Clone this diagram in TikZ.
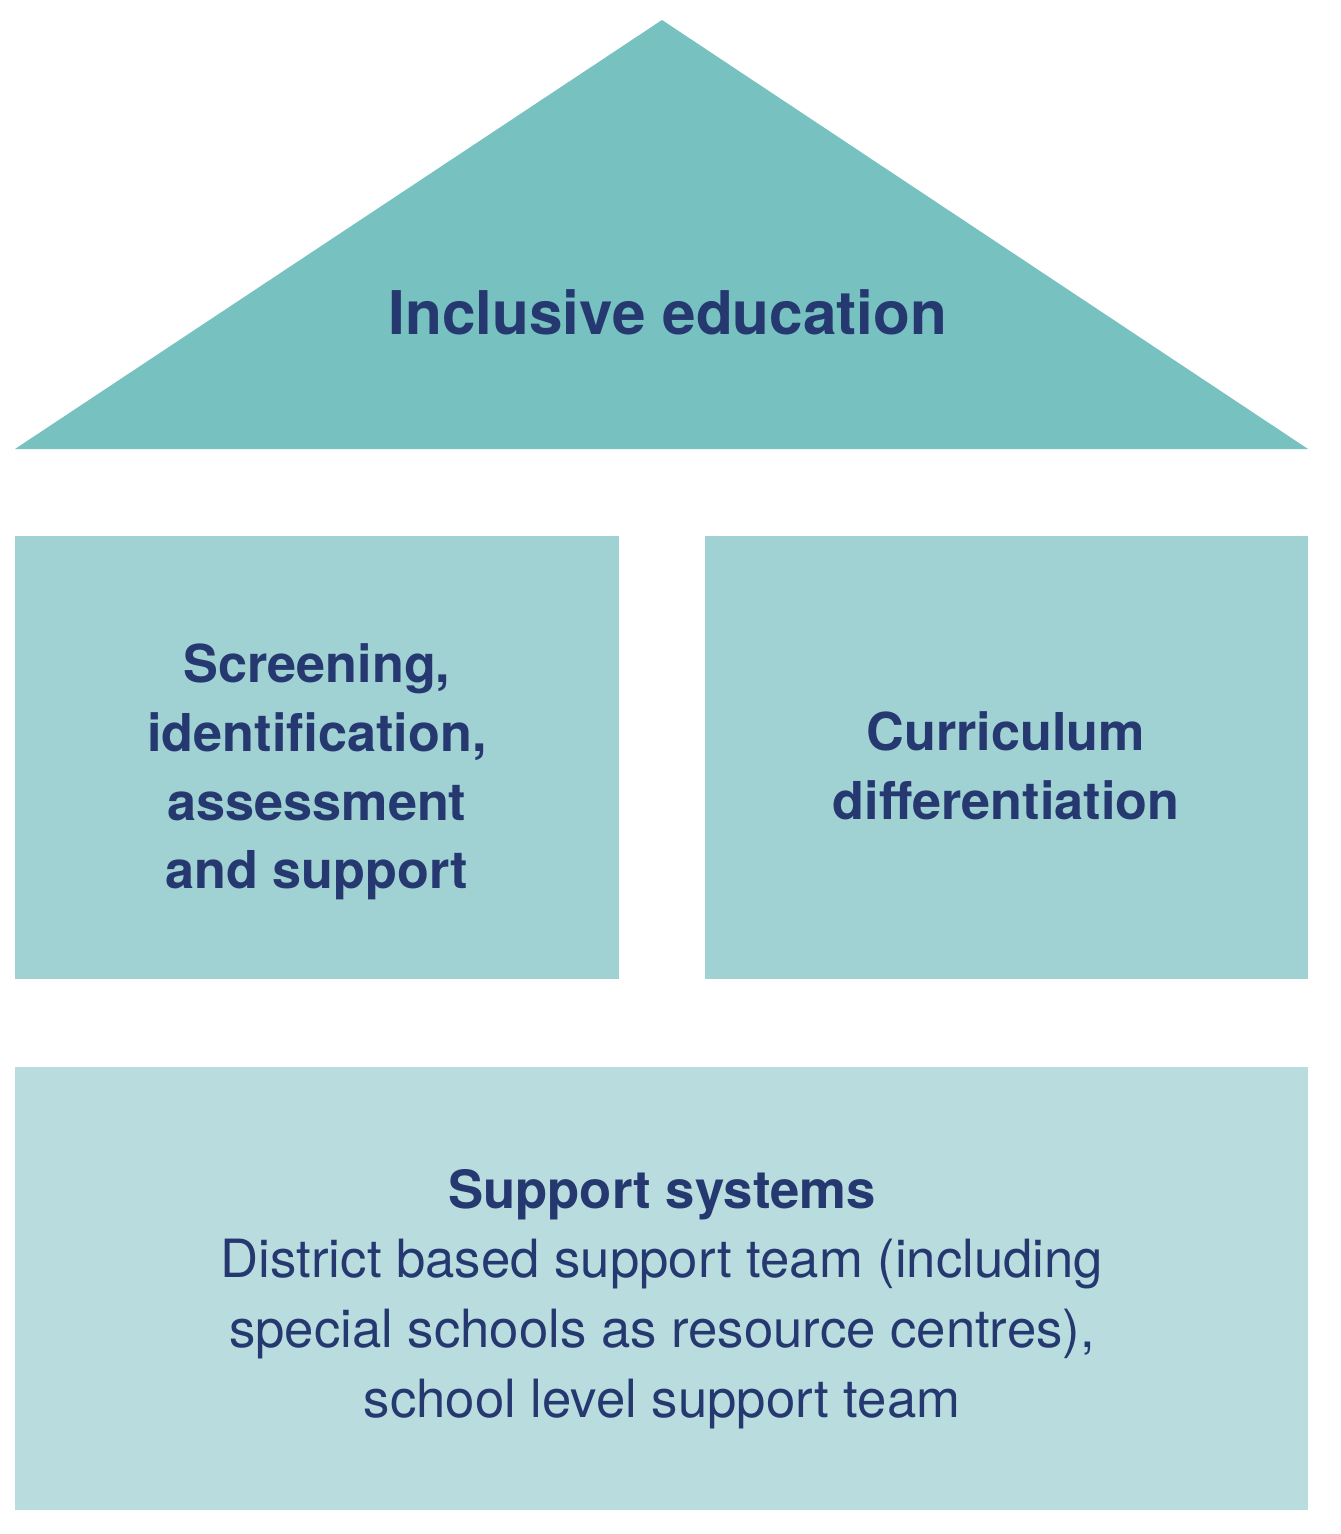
\documentclass[tikz,border=0pt]{standalone}
\usepackage{fontspec}
\setmainfont{TeX Gyre Heros}
\definecolor{roof}{HTML}{77C1C1}
\definecolor{pillar}{HTML}{A0D2D3}
\definecolor{base}{HTML}{B9DDDE}
\definecolor{ink}{HTML}{263870}
\tikzset{
	block/.style={fill=#1, draw=none},
	label/.style={text=ink, align=center, font=\fontsize{29.7}{39}\selectfont\bfseries},
}
\begin{document}
\begin{tikzpicture}[x=0.02cm, y=-0.02cm]
	\useasboundingbox (0,0) rectangle (1340,1534);

	\coordinate (apex) at (662,20);
	\coordinate (eaveL) at (15,449);
	\coordinate (eaveR) at (1308,449);

	\fill[roof] (eaveL) -- (apex) -- (eaveR) -- cycle;
	\fill[block=pillar] (15,536) rectangle (619,979);
	\fill[block=pillar] (705,536) rectangle (1308,979);
	\fill[block=base] (15,1067) rectangle (1308,1510);

	\node[label, font=\fontsize{34.3}{40}\selectfont\bfseries] (roofText) at (668,312) {Inclusive education};
	\node[label] (leftText) at (317,772) {Screening,\\identification,\\assessment\\and support};
	\node[label] (rightText) at (1006,766) {Curriculum\\differentiation};
	\node[label, font=\fontsize{30}{39.7}\selectfont] (baseText) at (662,1299)
		{\textbf{Support systems}\\District based support team (including\\special schools as resource centres),\\school level support team};
\end{tikzpicture}
\end{document}
